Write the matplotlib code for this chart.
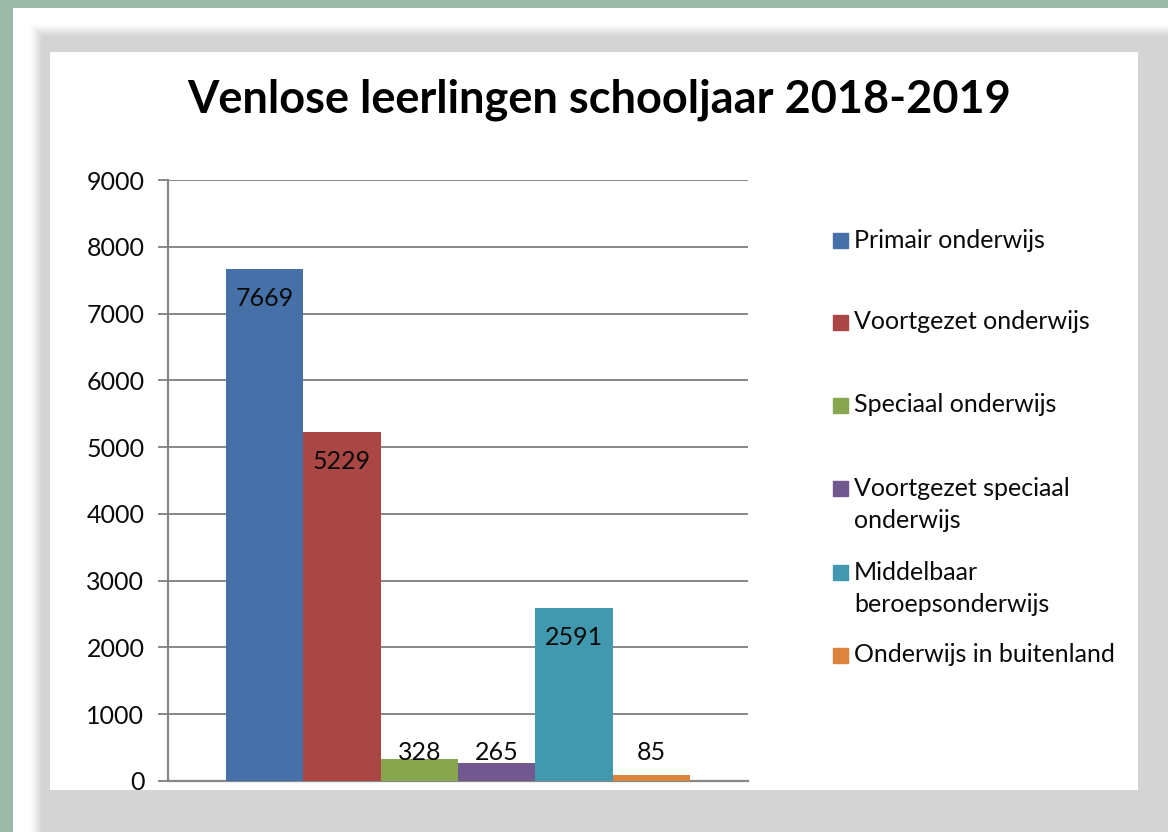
import numpy as np
import matplotlib
matplotlib.use("Agg")
import matplotlib.pyplot as plt
from matplotlib.patches import Rectangle

# ---- data ----
series = ["Primair onderwijs", "Voortgezet onderwijs", "Speciaal onderwijs",
          "Voortgezet speciaal\nonderwijs", "Middelbaar\nberoepsonderwijs",
          "Onderwijs in buitenland"]
values = [7669, 5229, 328, 265, 2591, 85]
yticks = [0, 1000, 2000, 3000, 4000, 5000, 6000, 7000, 8000, 9000]
title = "Venlose leerlingen schooljaar 2018-2019"

colors = ["#4571a8", "#aa4643", "#88a64e", "#71588f", "#4198af", "#db843d"]

W, H = 1168, 832
FONT = ["Lato", "DejaVu Sans"]
plt.rcParams["font.family"] = FONT
FS = 18

fig = plt.figure(figsize=(W / 100, H / 100), dpi=100)

# ---- background (screenshot frame) ----
yy, xx = np.mgrid[0:H, 0:W]
bg = np.empty((H, W, 3))
green = np.array([155, 184, 168]) / 255.0
bg[:] = green
inside = (xx >= 13) & (yy >= 8)
d = np.minimum(xx - 28, yy - 22)
t = np.clip(d / 16.0, 0, 1)
t = t * t * (3 - 2 * t)
level = (255 - (255 - 212) * t) / 255.0
for c in range(3):
    bg[..., c] = np.where(inside, level, bg[..., c])
chart = (xx >= 50) & (xx < 1138) & (yy >= 52) & (yy < 790)
bg[chart] = 1.0
bax = fig.add_axes([0, 0, 1, 1], zorder=-5)
bax.imshow(bg, aspect="auto", extent=(0, W, H, 0), interpolation="nearest")
bax.set_xlim(0, W)
bax.set_ylim(H, 0)
bax.axis("off")

# ---- main axes ----
ax_left, ax_right, ax_top, ax_bottom = 168, 748, 180, 781
ax = fig.add_axes([ax_left / W, (H - ax_bottom) / H,
                   (ax_right - ax_left) / W, (ax_bottom - ax_top) / H])
ax.set_facecolor("none")

n = len(values)
w = 0.8 / n
xs = [(i - (n - 1) / 2) * w for i in range(n)]
ax.bar(xs, values, width=w, color=colors, zorder=3, linewidth=0)
ax.set_xlim(-0.5, 0.5)
ax.set_ylim(yticks[0], yticks[-1])
ax.set_yticks(yticks)
ax.set_yticklabels([str(v) for v in yticks])
ax.set_xticks([])

gray = "#878787"
ax.grid(axis="y", color=gray, linewidth=1.4, zorder=0)
ax.set_axisbelow(True)
for s in ["top", "right"]:
    ax.spines[s].set_visible(False)
ax.spines["left"].set_color(gray)
ax.spines["left"].set_linewidth(1.6)
ax.spines["bottom"].set_color(gray)
ax.spines["bottom"].set_linewidth(1.6)
ax.tick_params(axis="y", length=7, width=1.4, color=gray, labelsize=FS,
               labelcolor="#0a0a0a", pad=10)

# data labels (inside end, clamped above the axis)
ppu = (ax_bottom - ax_top) / (yticks[-1] - yticks[0])
for x, v in zip(xs, values):
    top_px = v * ppu
    y_px = max(top_px - 30, 28)
    ax.annotate(str(v), xy=(x, 0), xytext=(0, y_px * 72 / 100),
                textcoords="offset points", ha="center", va="center",
                fontsize=FS, color="#0a0a0a", zorder=5)

# title
fig.text(599 / W, (H - 100) / H, title, ha="center", va="center",
         fontsize=32.5, fontweight="bold", color="#000000")

# ---- legend (manual, Excel style) ----
first_line_y = [240, 322, 405, 488, 572, 655]
line_gap = 32
sq = 15
for lab, col, ly in zip(series, colors, first_line_y):
    fig.patches.append(Rectangle((833 / W, (H - ly - sq / 2) / H), sq / W, sq / H,
                                 transform=fig.transFigure, color=col,
                                 figure=fig))
    for k, line in enumerate(lab.split("\n")):
        fig.text(854 / W, (H - ly - k * line_gap) / H, line, ha="left",
                 va="center", fontsize=FS, color="#0a0a0a")

fig.savefig("out.png", dpi=100)
